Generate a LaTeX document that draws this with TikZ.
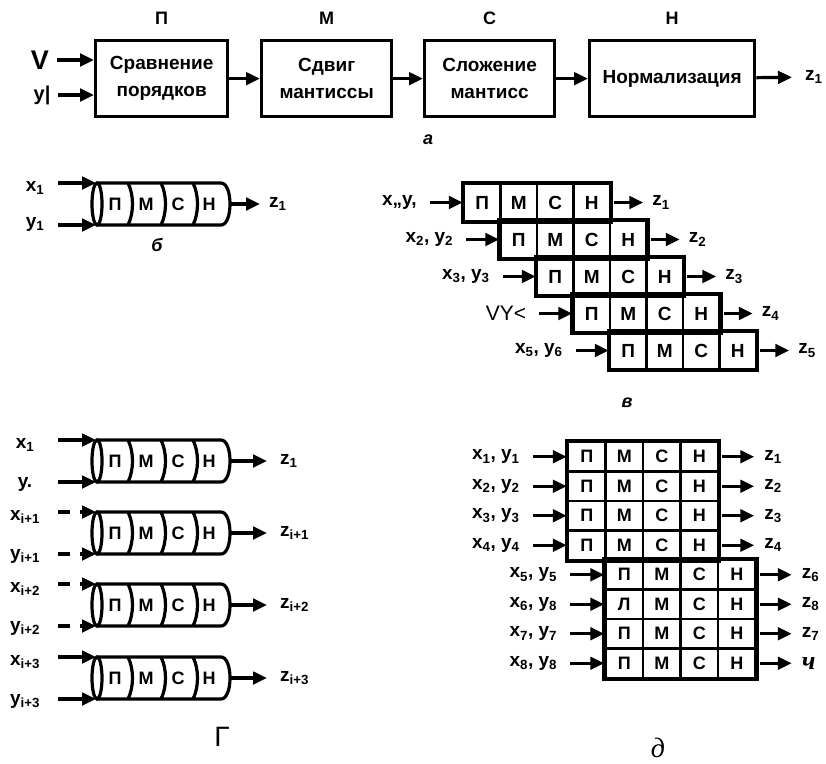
\documentclass[tikz,border=0pt]{standalone}
\usepackage{fontspec}
\setmainfont{Liberation Sans}
\newfontfamily\seriffont{Liberation Serif}
\usetikzlibrary{arrows.meta,positioning,calc}
\newcommand\sbs[1]{\textsubscript{#1}}
\tikzset{
  arr/.style={-{Triangle[length=14pt,width=12.5pt]}, line width=3.2pt},
  brkarr/.style={arr, dash pattern=on 12pt off 10pt on 30pt},
  blk/.style={
    draw, line width=3.3pt, align=center, inner sep=0pt,
    minimum height=76pt, font=\fontsize{19}{27}\selectfont\bfseries
  },
  ttl/.style={font=\fontsize{18}{18}\selectfont\bfseries},
  lbl/.style={font=\fontsize{19}{19}\selectfont\bfseries, inner sep=1pt},
  cell/.style={
    draw, line width=2.5pt, inner sep=0pt, minimum width=36.5pt,
    minimum height=37pt, font=\fontsize{19}{19}\selectfont\bfseries
  },
  dcell/.style={cell, minimum width=37.5pt, minimum height=29.5pt,
    font=\fontsize{18}{18}\selectfont\bfseries},
  rowln/.style={line width=3.8pt},
  pipeln/.style={line width=3.2pt},
  pletter/.style={font=\fontsize{18}{18}\selectfont\bfseries, inner sep=0pt},
  capt/.style={font=\fontsize{18}{18}\selectfont\bfseries\itshape}
}
% pipe: name, x of the left end, y of the axis
\newcommand\pipe[3]{%
  \begin{scope}[shift={(#2,#3)}]
    \draw[pipeln] (0,0) ellipse [x radius=5, y radius=21];
    \draw[pipeln] (0,-21) -- (124,-21) .. controls (136,-21) and (136,21) .. (124,21) -- (0,21);
    \foreach \d in {31,64,96}
      \draw[pipeln] (\d,-21) .. controls (\d+6,-9) and (\d+6,9) .. (\d,21);
    \node[pletter] (#1p) at (18,0) {П};
    \node[pletter] (#1m) at (49,0) {М};
    \node[pletter] (#1c) at (81,0) {С};
    \node[pletter] (#1n) at (112,0) {Н};
    \coordinate (#1top) at (-1,-21);
    \coordinate (#1bot) at (-1,21);
    \coordinate (#1out) at (133,0);
  \end{scope}}

\begin{document}
\begin{tikzpicture}[x=1pt,y=-1pt]
  \useasboundingbox (0,0) rectangle (826,763);
  % a: the four stages
  \node[blk, minimum width=132pt, anchor=north west] (cmp) at (94,39) {Сравнение\\порядков};
  \node[blk, minimum width=130pt, anchor=north west] (shf) at (260,39) {Сдвиг\\мантиссы};
  \node[blk, minimum width=130pt, anchor=north west] (add) at (423,39) {Сложение\\мантисс};
  \node[blk, minimum width=165pt, anchor=north west] (nrm) at (588,39) {Нормализация};
  \node[ttl] (tp) at ([yshift=21pt]cmp.north) {П};
  \node[ttl] (tm) at ([yshift=21pt]shf.north) {М};
  \node[ttl] (tc) at ([yshift=21pt]add.north) {С};
  \node[ttl] (tn) at ([yshift=21pt]nrm.north) {Н};
  \node[lbl, font=\fontsize{27}{27}\selectfont\bfseries] (vin) at (40,60) {V};
  \node[lbl, font=\fontsize{20}{20}\selectfont\bfseries] (yin) at (42,95) {y|};
  \draw[arr, shorten <=7pt] (vin) -- (vin -| cmp.west);
  \draw[arr, shorten <=6pt] (yin) -- (yin -| cmp.west);
  \draw[arr] (cmp) -- (shf);
  \draw[arr] (shf) -- (add);
  \draw[arr] (add) -- (nrm);
  \node[lbl, anchor=west] (zt) at (804,77) {z\sbs{1}};
  \draw[arr, shorten >=12pt] (nrm) -- (zt);
  \node[capt] (capa) at (428,140) {а};

  % b: one pipe
  \pipe{b}{97}{204}
  \node[lbl] (bx) at (35,188) {x\sbs{1}};
  \node[lbl] (by) at (35,224) {y\sbs{1}};
  \coordinate (bxs) at (58,183);
  \coordinate (bys) at (58,225);
  \draw[arr] (bxs) -- (btop);
  \draw[arr] (bys) -- (bbot);
  \node[lbl, anchor=west] (bz) at (268,204) {z\sbs{1}};
  \draw[arr, shorten >=8pt] (bout) -- (bz);
  \node[capt] (capb) at (157,245) {б};

  % g: four pipes side by side
  \foreach \k/\cy/\xl/\yl/\zl/\brk in {
      1/461/{x\sbs{1}}/{y.}/{z\sbs{1}}/arr,
      2/533/{x\sbs{i+1}}/{y\sbs{i+1}}/{z\sbs{i+1}}/brkarr,
      3/605/{x\sbs{i+2}}/{y\sbs{i+2}}/{z\sbs{i+2}}/brkarr,
      4/678/{x\sbs{i+3}}/{y\sbs{i+3}}/{z\sbs{i+3}}/arr}{
    \pipe{g\k}{97}{\cy}
    \node[lbl] (gx\k) at (25,{\cy-16}) {\xl};
    \node[lbl] (gy\k) at (25,{\cy+23}) {\yl};
    \coordinate (gs\k) at (58,{\cy-21});
    \coordinate (gt\k) at (58,{\cy+21});
    \draw[\brk] (gs\k) -- (g\k top);
    \draw[\brk] (gt\k) -- (g\k bot);
    \node[lbl, anchor=west] (gz\k) at (279,\cy) {\zl};
    \draw[arr, shorten >=12pt] (g\k out) -- (gz\k);
  }
  \node[font=\fontsize{28}{28}\selectfont] (capg) at (222,737) {Г};

  % v: staircase of five operations
  \foreach \r in {0,...,4}{
    \foreach \c/\t in {0/П,1/М,2/С,3/Н}
      \node[cell] (v\r\c) at ({482.25+36.5*(\r+\c)},{202.5+37*\r}) {\t};
    \draw[rowln] (v\r0.north west) rectangle (v\r3.south east);
  }
  \foreach \r/\t in {0/{x„y,},1/{x\sbs{2}, y\sbs{2}},2/{x\sbs{3}, y\sbs{3}},
      3/{\fontsize{21}{21}\selectfont\mdseries VY<},4/{x\sbs{5}, y\sbs{6}}}{
    \node[lbl, anchor=east] (vi\r) at ($(v\r0.west)+(-45,0)$) {\t};
    \draw[arr, shorten <=12pt] (vi\r) -- (v\r0);
  }
  \foreach \r/\n in {0/1,1/2,2/3,3/4,4/5}{
    \node[lbl, anchor=west] (vo\r) at ($(v\r3.east)+(40,0)$) {z\sbs{\n}};
    \draw[arr, shorten <=3pt, shorten >=8pt] (v\r3) -- (vo\r);
  }
  \node[capt] (capv) at (627,403) {в};

  % d: two blocks of four
  \foreach \r in {0,...,3}
    \foreach \c/\t in {0/П,1/М,2/С,3/Н}
      \node[dcell] (d\r\c) at ({586.75+37.5*\c},{456.75+29.5*\r}) {\t};
  \foreach \r/\a in {4/П,5/Л,6/П,7/П}
    \foreach \c/\t in {0/\a,1/М,2/С,3/Н}
      \node[dcell] (d\r\c) at ({624.25+37.5*\c},{456.75+29.5*\r}) {\t};
  \draw[rowln] (d00.north west) rectangle (d33.south east);
  \draw[rowln] (d40.north west) rectangle (d73.south east);
  \foreach \r/\t in {0/{x\sbs{1}, y\sbs{1}},1/{x\sbs{2}, y\sbs{2}},
      2/{x\sbs{3}, y\sbs{3}},3/{x\sbs{4}, y\sbs{4}},4/{x\sbs{5}, y\sbs{5}},
      5/{x\sbs{6}, y\sbs{8}},6/{x\sbs{7}, y\sbs{7}},7/{x\sbs{8}, y\sbs{8}}}{
    \node[lbl, anchor=east] (di\r) at ($(d\r0.west)+(-46,0)$) {\t};
    \draw[arr, shorten <=12pt] (di\r) -- (d\r0);
  }
  \foreach \r/\t in {0/{z\sbs{1}},1/{z\sbs{2}},2/{z\sbs{3}},3/{z\sbs{4}},
      4/{z\sbs{6}},5/{z\sbs{8}},6/{z\sbs{7}},
      7/{\seriffont\itshape\fontsize{26}{26}\selectfont ч}}{
    \node[lbl, anchor=west] (do\r) at ($(d\r3.east)+(44,0)$) {\t};
    \draw[arr, shorten <=3pt, shorten >=9pt] (d\r3) -- (do\r);
  }
  \node[font=\seriffont\itshape\fontsize{28}{28}\selectfont] (capd) at (658,748) {д};
\end{tikzpicture}
\end{document}
